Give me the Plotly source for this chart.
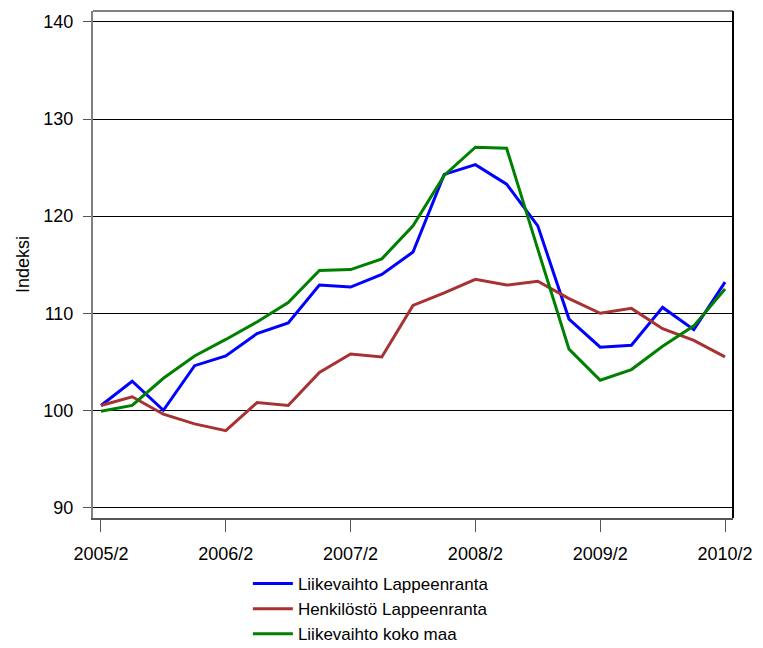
import plotly.graph_objects as go

quarters = [f"{y}/{q}" for y in range(2005, 2011) for q in range(1, 5)]
quarters = quarters[1:22]  # 2005/2 .. 2010/2
tick_labels = ["2005/2", "2006/2", "2007/2", "2008/2", "2009/2", "2010/2"]

liikevaihto_lpr = [100.5, 103.0, 100.0, 104.6, 105.6, 107.9, 109.0, 112.9, 112.7, 114.0,
                   116.3, 124.3, 125.3, 123.3, 119.0, 109.4, 106.5, 106.7, 110.6, 108.3, 113.2]
henkilosto_lpr = [100.5, 101.4, 99.6, 98.6, 97.9, 100.8, 100.5, 103.9, 105.8, 105.5,
                  110.8, 112.1, 113.5, 112.9, 113.3, 111.5, 110.0, 110.5, 108.4, 107.2, 105.5]
liikevaihto_maa = [99.9, 100.5, 103.3, 105.6, 107.3, 109.1, 111.1, 114.4, 114.5, 115.6,
                   119.0, 124.2, 127.1, 127.0, 116.6, 106.3, 103.1, 104.2, 106.6, 108.7, 112.5]

series = [
    ("Liikevaihto Lappeenranta", liikevaihto_lpr, "#0000FF"),
    ("Henkilöstö Lappeenranta", henkilosto_lpr, "#A83232"),
    ("Liikevaihto koko maa", liikevaihto_maa, "#008000"),
]

fig = go.Figure()
for name, vals, col in series:
    fig.add_trace(go.Scatter(x=quarters, y=vals, mode="lines", name=name,
                             line=dict(color=col, width=3)))

font = dict(family="Liberation Sans, Arial, sans-serif", size=18, color="black")

# page body has an 8px margin, so the figure is sized/placed to compensate
fig.update_layout(
    width=755, height=640,
    margin=dict(l=85, r=30, t=3, b=130, autoexpand=False),
    paper_bgcolor="white", plot_bgcolor="white",
    font=font,
    showlegend=True,
    legend=dict(orientation="v", x=0.242, y=-0.0947, xanchor="left", yanchor="top",
                font=dict(family="Liberation Sans, Arial, sans-serif", size=17, color="black"),
                tracegroupgap=0, itemwidth=40, bgcolor="rgba(0,0,0,0)"),
    xaxis=dict(type="category", range=[-0.256, 20.256], automargin=False,
               tickmode="array", tickvals=tick_labels, ticktext=tick_labels,
               ticks="outside", ticklen=12, tickcolor="#555555", tickwidth=1,
               showgrid=False, zeroline=False,
               showline=True, linecolor="#555555", linewidth=2,
               ticklabelstandoff=6, tickfont=font),
    yaxis=dict(range=[88.91, 141.13], tickvals=[90, 100, 110, 120, 130, 140],
               automargin=False,
               ticks="outside", ticklen=8, tickcolor="#555555", tickwidth=1,
               showgrid=True, gridcolor="black", gridwidth=1, zeroline=False,
               showline=True, linecolor="#808080", linewidth=2,
               title=dict(text="Indeksi", font=font, standoff=9),
               ticklabelstandoff=6, tickfont=font),
    shapes=[
        dict(type="line", xref="paper", yref="paper", x0=0, x1=1, y0=1, y1=1,
             line=dict(color="#808080", width=2)),
        dict(type="line", xref="paper", yref="paper", x0=1, x1=1, y0=0, y1=1,
             line=dict(color="black", width=2)),
    ],
)

fig.write_html("out.html")
